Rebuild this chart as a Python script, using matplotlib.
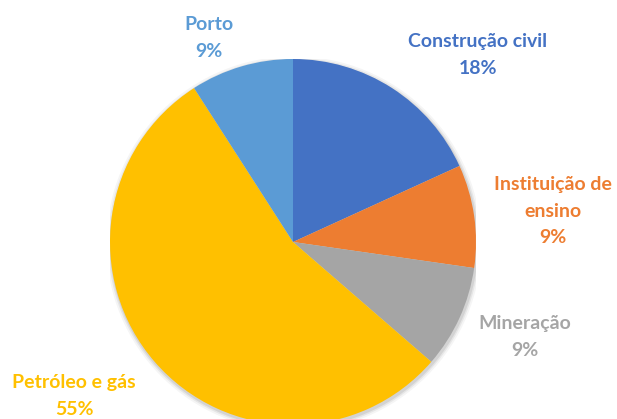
import matplotlib.pyplot as plt
from matplotlib.patches import Circle

# dados
setores = ['Construção civil', 'Instituição de\nensino', 'Mineração', 'Petróleo e gás', 'Porto']
valores = [2, 1, 1, 6, 1]
cores = ['#4472C4', '#ED7D31', '#A5A5A5', '#FFC000', '#5B9BD5']
# posicao dos rotulos em pixels (x, y do centro)
pos_rotulos = [(478, 55), (553, 211), (525, 337), (74, 396), (209, 38)]

W, H = 617, 419
fig = plt.figure(figsize=(W / 100, H / 100), dpi=100)

# eixo quadrado: centro (293, 242), raio 183 px
cx, cy, r = 293, 242, 183
ax = fig.add_axes([(cx - r) / W, (H - cy - r) / H, 2 * r / W, 2 * r / H])

# sombra leve
for k, a in [(1.025, 0.04), (1.015, 0.06), (1.007, 0.08)]:
    ax.add_patch(Circle((0.005, -0.01), k, color='black', alpha=a, lw=0, zorder=0))

ax.pie(valores, colors=cores, startangle=90, counterclock=False, radius=1,
       wedgeprops={'linewidth': 0}, frame=True)
ax.set_xlim(-1, 1)
ax.set_ylim(-1, 1)
ax.axis('off')

total = sum(valores)
for nome, v, c, (px, py) in zip(setores, valores, cores, pos_rotulos):
    txt = '%s\n%d%%' % (nome, round(100.0 * v / total))
    fig.text(px / W, 1 - py / H, txt, ha='center', va='center', color=c,
             fontsize=14, fontweight='bold', family='Lato', linespacing=1.7)

fig.savefig('out.png', dpi=100)
